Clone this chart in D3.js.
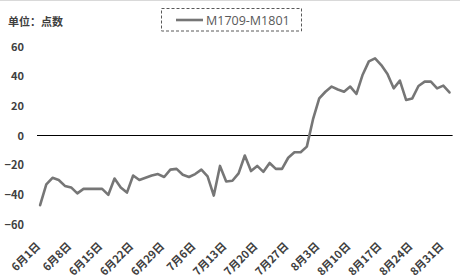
<!DOCTYPE html>
<html>
<head>
<meta charset="utf-8">
<script src="https://cdn.jsdelivr.net/npm/d3@7"></script>
<style>
  body { margin: 0; background: #fff; }
  svg { display: block; font-family: "Microsoft YaHei", "Noto Sans CJK SC", sans-serif; }
</style>
</head>
<body>
<div id="chart"></div>
<script>
// Spread M1709-M1801, trading days Jun 1 - Sep 1

const days = [
  "6/1","6/2","6/5","6/6","6/7","6/8","6/9","6/12","6/13","6/14","6/15","6/16",
  "6/19","6/20","6/21","6/22","6/23","6/26","6/27","6/28","6/29","6/30",
  "7/3","7/4","7/5","7/6","7/7","7/10","7/11","7/12","7/13","7/14","7/17","7/18",
  "7/19","7/20","7/21","7/24","7/25","7/26","7/27","7/28","7/31",
  "8/1","8/2","8/3","8/4","8/7","8/8","8/9","8/10","8/11","8/14","8/15","8/16",
  "8/17","8/18","8/21","8/22","8/23","8/24","8/25","8/28","8/29","8/30","8/31",
  "9/1"
];

const spread = [
  -47, -33, -28.5, -30, -34, -35, -39, -36, -36, -36, -36, -40,
  -29, -35, -38.5, -27, -30, -28.5, -27, -26, -28, -23,
  -22.5, -26.5, -28, -26, -23, -27.5, -40.5, -20.5, -31, -30.5, -25.5, -13.5,
  -24, -20.5, -24.5, -18.5, -22.5, -22.5, -15, -11.3, -11.3,
  -7.5, 11, 25, 29.5, 33, 31, 29.5, 33, 28, 41, 50, 52,
  47.5, 41.5, 31.8, 37, 24, 25, 33.4, 36.3, 36.3, 31.8, 33.6,
  29
];

const tickDays = ["6/1","6/8","6/15","6/22","6/29","7/6","7/13","7/20","7/27","8/3","8/10","8/17","8/24","8/31"];
const yTicks = [-60, -40, -20, 0, 20, 40, 60];
const seriesName = "M1709-M1801";

const width = 460, height = 280;
const textColor = "#404040";
const lineColor = "#767676";

const svg = d3.select("#chart").append("svg")
    .attr("width", width)
    .attr("height", height);

// top border
svg.append("line")
    .attr("x1", 0).attr("x2", width)
    .attr("y1", 0.5).attr("y2", 0.5)
    .attr("stroke", "#d9d9d9");

const x = d3.scalePoint()
    .domain(days)
    .range([37, 452.6])
    .padding(0.5);

const y = d3.scaleLinear()
    .domain([-60, 60])
    .range([224.5, 46.5]);

// y axis labels
svg.append("g")
    .attr("transform", "translate(24,0)")
    .call(d3.axisLeft(y).tickValues(yTicks).tickSize(0).tickPadding(0))
    .call(g => g.select(".domain").remove())
    .call(g => g.selectAll("text")
        .attr("fill", textColor)
        .attr("font-size", "11px")
        .attr("font-weight", "bold")
        .attr("font-family", "'Microsoft YaHei', 'Noto Sans CJK SC', sans-serif"));

// x axis labels, rotated
svg.append("g")
  .selectAll("text")
  .data(tickDays)
  .join("text")
    .attr("transform", d => `translate(${x(d) + 1},247) rotate(-45)`)
    .attr("text-anchor", "end")
    .attr("fill", textColor)
    .attr("font-size", "11px")
    .attr("font-weight", "bold")
    .text(d => { const [m, dd] = d.split("/"); return `${m}月${dd}日`; });

// zero line
svg.append("line")
    .attr("x1", x.range()[0]).attr("x2", x.range()[1])
    .attr("y1", y(0)).attr("y2", y(0))
    .attr("stroke", "#000")
    .attr("stroke-width", 1.2);

// series line
const line = d3.line()
    .x((d, i) => x(days[i]))
    .y(d => y(d));

svg.append("path")
    .datum(spread)
    .attr("fill", "none")
    .attr("stroke", lineColor)
    .attr("stroke-width", 2.6)
    .attr("stroke-linejoin", "round")
    .attr("stroke-linecap", "round")
    .attr("d", line);

// unit title
svg.append("text")
    .attr("x", 8)
    .attr("y", 26)
    .attr("fill", textColor)
    .attr("font-size", "11px")
    .attr("font-weight", "bold")
    .text("单位：点数");

// legend
svg.append("rect")
    .attr("x", 161.5).attr("y", 8.5)
    .attr("width", 140).attr("height", 22.5)
    .attr("fill", "none")
    .attr("stroke", "#595959")
    .attr("stroke-dasharray", "3,2");

svg.append("line")
    .attr("x1", 176).attr("x2", 203)
    .attr("y1", 20).attr("y2", 20)
    .attr("stroke", lineColor)
    .attr("stroke-width", 2.6);

svg.append("text")
    .attr("x", 206)
    .attr("y", 24.5)
    .attr("fill", "#595959")
    .attr("font-size", "12.5px")
    .attr("font-family", "'Open Sans', 'Noto Sans', sans-serif")
    .text(seriesName);
</script>
</body>
</html>
